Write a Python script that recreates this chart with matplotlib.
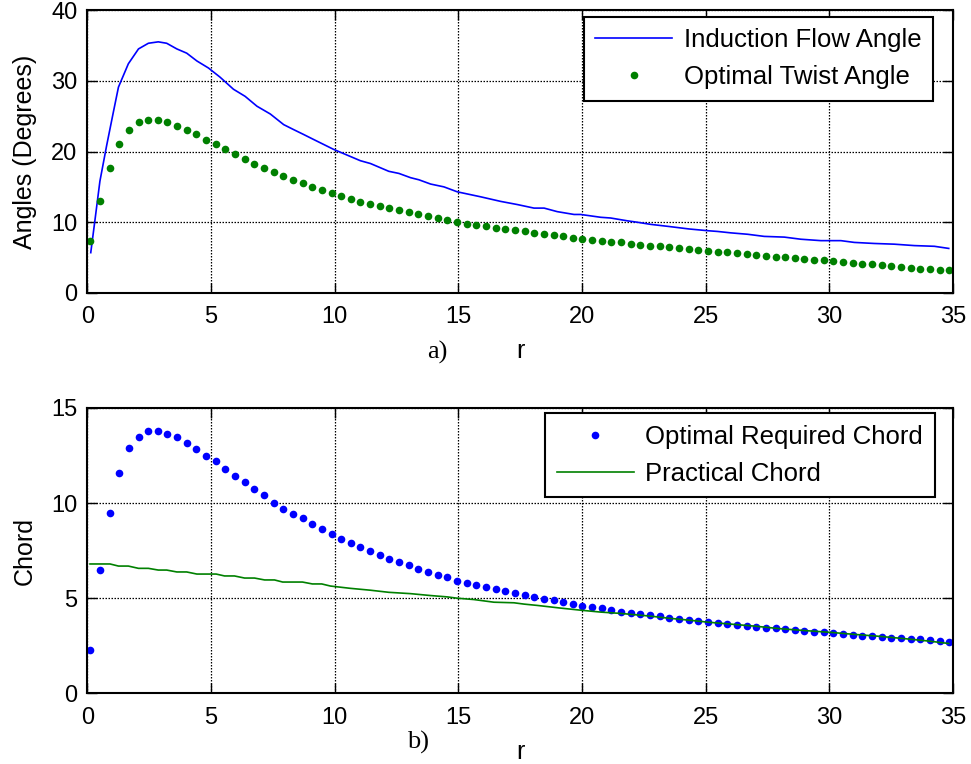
"""Flow angle / twist angle and chord distribution along the blade radius."""

import matplotlib
matplotlib.use("Agg")
import matplotlib.pyplot as plt
import numpy as np

plt.rcParams['font.family'] = ['Liberation Sans', 'DejaVu Sans']

# Blade stations (dots are evenly spaced along r)
r = np.linspace(0.12, 34.85, 90)

# a) Optimal twist angle at each station (degrees)
twist_angle = [
    7.3, 13.0, 17.6, 21.0, 23.0, 24.1, 24.4, 24.4, 24.1, 23.6,
    23.1, 22.5, 21.6, 21.0, 20.3, 19.7, 19.0, 18.3, 17.7, 17.1,
    16.6, 16.0, 15.6, 15.0, 14.6, 14.1, 13.7, 13.3, 12.9, 12.6,
    12.3, 12.0, 11.7, 11.4, 11.1, 10.9, 10.6, 10.3, 10.05, 9.8,
    9.65, 9.45, 9.25, 9.1, 8.9, 8.7, 8.55, 8.35, 8.15, 8.0,
    7.8, 7.7, 7.55, 7.4, 7.25, 7.15, 6.95, 6.85, 6.7, 6.6,
    6.5, 6.35, 6.25, 6.1, 6.0, 5.85, 5.75, 5.65, 5.5, 5.4,
    5.25, 5.15, 5.05, 4.95, 4.85, 4.7, 4.6, 4.55, 4.4, 4.3,
    4.15, 4.05, 3.95, 3.8, 3.7, 3.55, 3.45, 3.4, 3.25, 3.2,
]

# a) Induction flow angle (line)
r_flow = [
    0.14, 0.31, 0.51, 0.78, 1.05, 1.26, 1.66, 2.07, 2.47, 2.87,
    3.21, 3.62, 4.02, 4.43, 4.9, 5.37, 5.91, 6.38, 6.86, 7.4,
    7.94, 8.34, 8.75, 9.15, 9.96, 11.04, 11.45, 12.19, 12.6, 13.07,
    13.41, 13.88, 14.42, 14.96, 15.9, 16.71, 17.39, 18.06, 18.47, 19.0,
    19.68, 19.95, 20.76, 21.16, 21.84, 22.24, 22.78, 23.52, 24.33, 25.1,
    25.48, 26.02, 26.7, 27.37, 28.18, 28.85, 29.66, 30.47, 31.01, 31.82,
    32.63, 33.44, 34.25, 34.83,
]
flow_angle = [
    5.7, 10.3, 15.8, 20.8, 25.5, 29.1, 32.4, 34.5, 35.3, 35.5,
    35.3, 34.5, 33.9, 32.8, 31.8, 30.5, 28.8, 27.8, 26.4, 25.3,
    23.8, 23.1, 22.4, 21.7, 20.3, 18.7, 18.3, 17.2, 16.9, 16.3,
    16.0, 15.4, 15.0, 14.3, 13.6, 12.95, 12.5, 12.0, 12.0, 11.5,
    11.1, 11.1, 10.7, 10.6, 10.2, 10.0, 9.7, 9.4, 9.05, 8.8,
    8.7, 8.5, 8.3, 8.0, 7.9, 7.6, 7.4, 7.4, 7.15, 7.0,
    6.9, 6.7, 6.6, 6.3,
]

# b) Optimal required chord at each station
opt_chord = [
    2.3, 6.5, 9.5, 11.6, 12.9, 13.5, 13.8, 13.8, 13.65, 13.45,
    13.15, 12.85, 12.5, 12.2, 11.8, 11.45, 11.1, 10.75, 10.4, 10.0,
    9.7, 9.45, 9.2, 8.9, 8.65, 8.35, 8.13, 7.9, 7.69, 7.48,
    7.27, 7.06, 6.88, 6.72, 6.55, 6.4, 6.23, 6.1, 5.93, 5.8,
    5.69, 5.58, 5.48, 5.37, 5.27, 5.17, 5.07, 4.98, 4.89, 4.78,
    4.68, 4.6, 4.53, 4.46, 4.38, 4.3, 4.24, 4.17, 4.1, 4.05,
    3.98, 3.93, 3.87, 3.82, 3.76, 3.69, 3.64, 3.59, 3.54, 3.5,
    3.45, 3.41, 3.36, 3.32, 3.27, 3.23, 3.2, 3.15, 3.11, 3.07,
    3.03, 3.0, 2.97, 2.93, 2.9, 2.87, 2.83, 2.8, 2.76, 2.7,
]

# b) Practical chord (line)
r_practical = [
    0.11, 0.92, 1.26, 1.66, 2.07, 2.47, 2.87, 3.21, 3.62, 4.02,
    4.43, 5.21, 5.55, 5.95, 6.36, 6.76, 7.17, 7.57, 7.9, 8.7,
    9.1, 9.48, 9.83, 10.63, 11.45, 12.19, 13.07, 13.88, 14.55, 14.96,
    15.63, 16.44, 17.25, 17.66, 18.2, 19.14, 19.95, 20.76, 21.57, 22.75,
    23.5, 24.3, 25.1, 26.0, 27.0, 28.0, 29.0, 30.1, 31.0, 32.0,
    33.0, 34.0, 34.83,
]
practical_chord = [
    6.8, 6.8, 6.69, 6.69, 6.57, 6.57, 6.48, 6.48, 6.38, 6.38,
    6.27, 6.27, 6.17, 6.17, 6.06, 6.06, 5.96, 5.96, 5.85, 5.85,
    5.75, 5.75, 5.64, 5.52, 5.42, 5.31, 5.24, 5.14, 5.07, 5.0,
    4.93, 4.79, 4.76, 4.69, 4.62, 4.48, 4.37, 4.27, 4.2, 4.06,
    3.95, 3.85, 3.74, 3.64, 3.53, 3.4, 3.3, 3.2, 3.1, 3.0,
    2.88, 2.75, 2.62,
]

x_ticks = [0, 5, 10, 15, 20, 25, 30, 35]

fig = plt.figure(figsize=(9.71, 7.64), dpi=100)
ax_top = fig.add_axes([0.0899, 0.6165, 0.8915, 0.3704])
ax_bot = fig.add_axes([0.0899, 0.0925, 0.8915, 0.3735])

# a) angles
ax_top.plot(r_flow, flow_angle, '-', color=(0, 0, 1), lw=1.2, label='Induction Flow Angle')
ax_top.plot(r, twist_angle, 'o', color=(0, 0.5, 0), ms=5.5, mec='none', label='Optimal Twist Angle')
ax_top.set_ylim(0, 40)
ax_top.set_yticks([0, 10, 20, 30, 40])
ax_top.set_ylabel('Angles (Degrees)', fontsize=18)

# b) chord
ax_bot.plot(r, opt_chord, 'o', color=(0, 0, 1), ms=5.5, mec='none', label='Optimal Required Chord')
ax_bot.plot(r_practical, practical_chord, '-', color=(0, 0.5, 0), lw=1.2, label='Practical Chord')
ax_bot.set_ylim(0, 15)
ax_bot.set_yticks([0, 5, 10, 15])
ax_bot.set_ylabel('Chord', fontsize=18)

legend_pos = {ax_top: (0.977, 0.976), ax_bot: (0.979, 0.981)}
for ax in (ax_top, ax_bot):
    ax.set_xlim(0, 35)
    ax.set_xticks(x_ticks)
    ax.grid(True, color='black', linestyle=(0, (1.2, 1.2)), lw=0.9)
    ax.set_axisbelow(True)
    ax.tick_params(direction='in', top=True, right=True, length=7, width=1,
                   labelsize=17, pad=7)
    ax.tick_params(axis='x', pad=9.5)
    for spine in ax.spines.values():
        spine.set_linewidth(1.5)
    ax.set_xlabel('r', fontsize=18, labelpad=8)
    ax.yaxis.set_label_coords(-0.058, 0.5)
    leg = ax.legend(loc='upper right', bbox_to_anchor=legend_pos[ax], borderaxespad=0,
                    fontsize=18.5, handlelength=3.0, handletextpad=0.45, labelspacing=0.5,
                    borderpad=0.45, fancybox=False, framealpha=1, numpoints=1)
    leg.get_frame().set_edgecolor('black')
    leg.get_frame().set_linewidth(1.5)

fig.text(437 / 971, 1 - 352 / 764, 'a)', family='Liberation Serif', fontsize=19,
         ha='center', va='center')
fig.text(418 / 971, 1 - 742 / 764, 'b)', family='Liberation Serif', fontsize=19,
         ha='center', va='center')

plt.savefig('out.png', dpi=100)
plt.close()
